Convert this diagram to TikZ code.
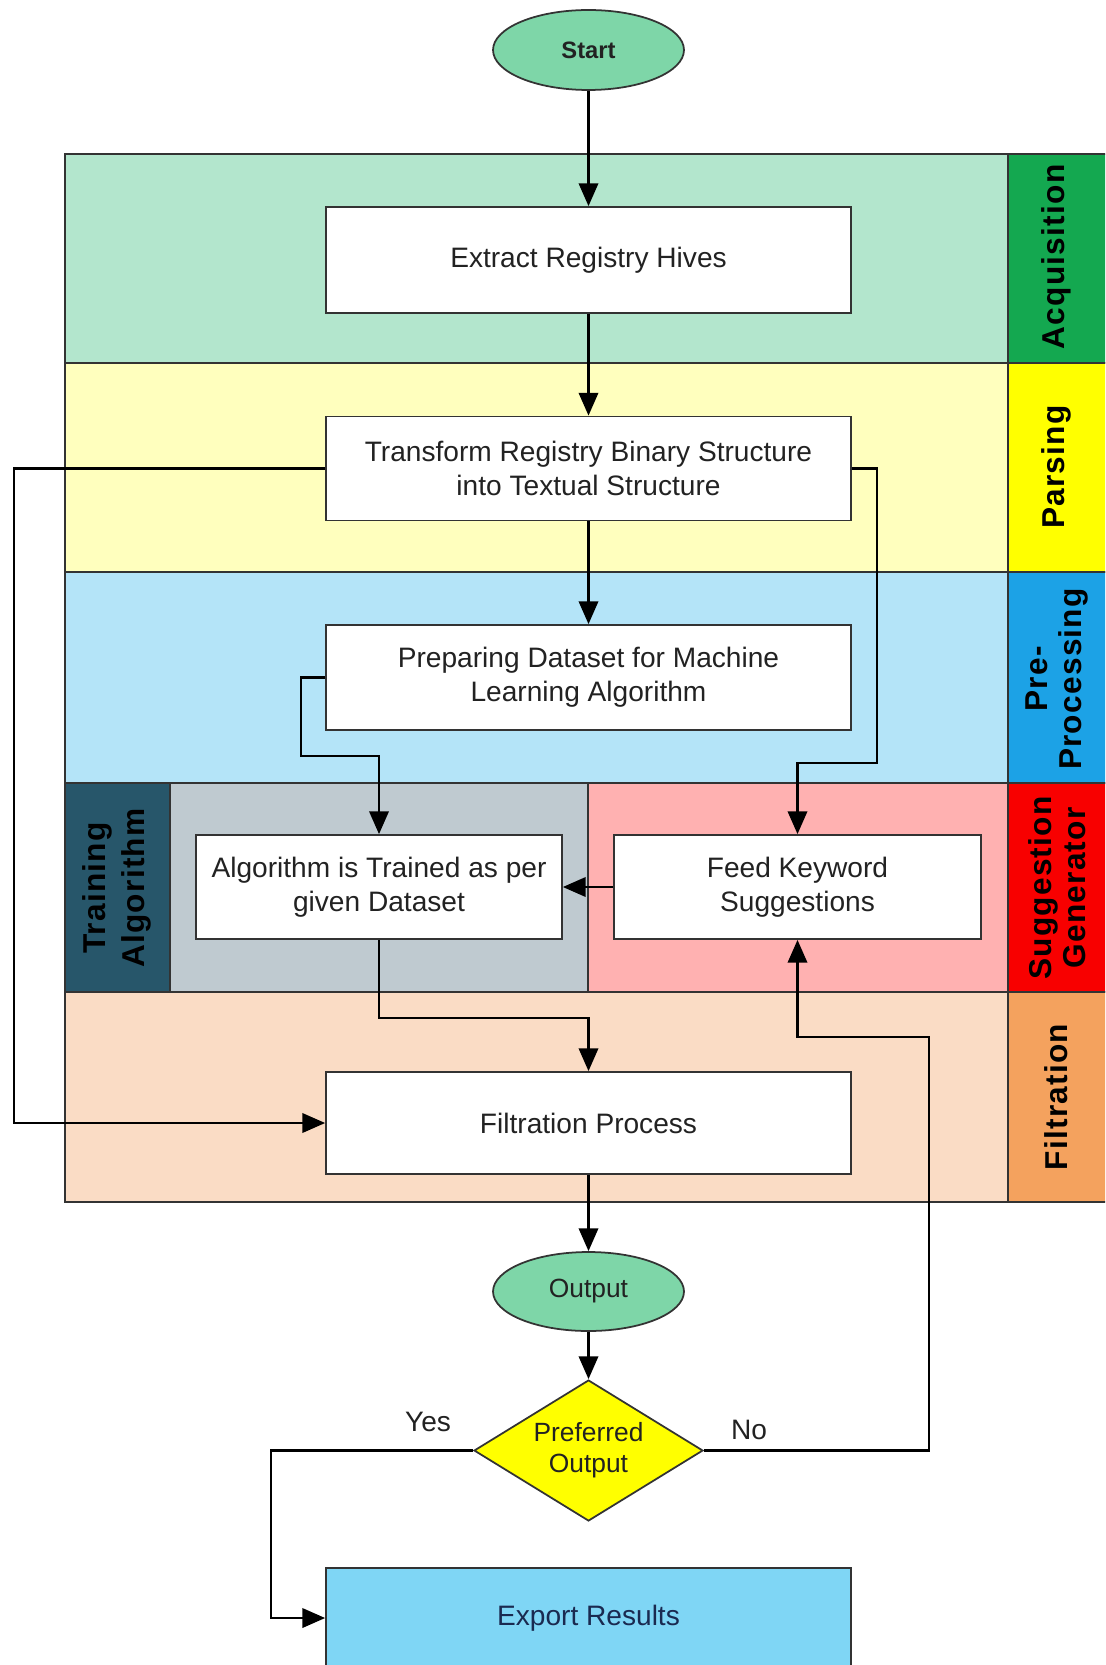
\documentclass[tikz,border=0pt]{standalone}
\usepackage{fontspec}
\setmainfont{Liberation Sans}
\setsansfont{Liberation Sans}
\usetikzlibrary{shapes.geometric,arrows.meta}

% swimlane body / header colours
\definecolor{acqL}{HTML}{B3E6CD}
\definecolor{acqH}{HTML}{14A850}
\definecolor{parL}{HTML}{FFFFBE}
\definecolor{parH}{HTML}{FFFF00}
\definecolor{preL}{HTML}{B4E4F8}
\definecolor{preH}{HTML}{1CA2E6}
\definecolor{traL}{HTML}{BFCAD0}
\definecolor{traH}{HTML}{27566A}
\definecolor{sugL}{HTML}{FFB1B1}
\definecolor{sugH}{HTML}{F80000}
\definecolor{filL}{HTML}{FADCC5}
\definecolor{filH}{HTML}{F4A25E}
% shape colours
\definecolor{termC}{HTML}{7ED6A8}
\definecolor{expC}{HTML}{7FD6F5}
\definecolor{expT}{HTML}{1A2A50}
\definecolor{boxLine}{HTML}{333333}
\definecolor{txtC}{HTML}{222222}

\begin{document}
\begin{tikzpicture}[x=0.02cm,y=-0.02cm,
  lane/.style={draw=boxLine, line width=1.1pt},
  lanelabel/.style={rotate=90, align=center, text=black,
    font=\fontsize{18}{19}\selectfont\bfseries\addfontfeature{LetterSpace=4}},
  procbox/.style={rectangle, draw=boxLine, line width=1pt, fill=white,
    minimum width=10.5cm, minimum height=2.08cm, inner sep=0pt, align=center,
    text=txtC, font=\fontsize{16}{19.5}\selectfont},
  terminal/.style={ellipse, draw=boxLine, line width=1pt, fill=termC,
    minimum width=3.82cm, minimum height=1.6cm, inner sep=0pt, text=txtC},
  decision/.style={diamond, aspect=1.6, draw=boxLine, line width=1pt, fill=parH,
    minimum width=4.58cm, minimum height=2.82cm, inner sep=0pt, align=center,
    text=txtC, font=\fontsize{15}{17.5}\selectfont},
  arr/.style={draw=black, line width=1.5pt,
    -{Triangle[length=13pt,width=11pt]}},
  lbl/.style={text=txtC, font=\fontsize{16}{19}\selectfont}
]
\useasboundingbox (0,0) rectangle (1105,1665);
\clip (0,0) rectangle (1105,1665);

% ---------- swimlanes ----------
\draw[lane, fill=acqL] (65,154) rectangle (1008,363);
\draw[lane, fill=acqH] (1008,154) rectangle (1120,363);
\draw[lane, fill=parL] (65,363) rectangle (1008,572);
\draw[lane, fill=parH] (1008,363) rectangle (1120,572);
\draw[lane, fill=preL] (65,572) rectangle (1008,783);
\draw[lane, fill=preH] (1008,572) rectangle (1120,783);
\draw[lane, fill=traH] (65,783) rectangle (170,992);
\draw[lane, fill=traL] (170,783) rectangle (588,992);
\draw[lane, fill=sugL] (588,783) rectangle (1008,992);
\draw[lane, fill=sugH] (1008,783) rectangle (1120,992);
\draw[lane, fill=filL] (65,992) rectangle (1008,1202);
\draw[lane, fill=filH] (1008,992) rectangle (1120,1202);

\node[lanelabel] (lAcq) at (1056,257) {Acquisition};
\node[lanelabel] (lPar) at (1056,467) {Parsing};
\node[lanelabel] (lPre) at (1057,679) {Pre-\\Processing};
\node[lanelabel] (lSug) at (1057,888) {Suggestion\\Generator};
\node[lanelabel] (lFil) at (1056,1097) {Filtration};
\node[lanelabel, font=\fontsize{18}{22}\selectfont\bfseries\addfontfeature{LetterSpace=4}]
  (lTra) at (117,888) {Training\\Algorithm};

% ---------- flow shapes ----------
\node[terminal, font=\fontsize{13.5}{16}\selectfont\bfseries] (start) at (588.5,50) {Start};
\node[procbox, minimum height=2.12cm] (ext) at (588.5,260) {Extract Registry Hives};
\node[procbox] (trans) at (588.5,468.5) {Transform Registry Binary Structure\\into Textual Structure};
\node[procbox, minimum height=2.1cm] (prep) at (588.5,677.5) {Preparing Dataset for Machine\\Learning Algorithm};
\node[procbox, minimum width=7.32cm] (algo) at (379,887) {Algorithm is Trained as per\\given Dataset};
\node[procbox, minimum width=7.34cm] (feed) at (797.5,887) {Feed Keyword\\Suggestions};
\node[procbox, minimum height=2.04cm] (filt) at (588.5,1123) {Filtration Process};
\node[terminal, minimum height=1.58cm, font=\fontsize{15}{17}\selectfont] (out) at (588.5,1291.5) {Output};
\node[decision] (dec) at (588.5,1450.5) {Preferred\\Output};
\node[procbox, fill=expC, minimum height=2cm, text=expT] (export) at (588.5,1618) {Export Results};

% ---------- routing points ----------
\coordinate (leftbus) at (14,0);
\coordinate (jogA) at (877,763);
\coordinate (jogB) at (301,756);
\coordinate (jogC) at (588.5,1018);
\coordinate (jogD) at (929,1037);
\coordinate (jogE) at (271,1618);

% ---------- connectors ----------
\draw[arr] (start) -- (ext);
\draw[arr] (ext) -- (trans);
\draw[arr] (trans) -- (prep);
\draw[arr] (trans.west) -- (trans.west -| leftbus) |- (filt.west);
\draw[arr] (trans.east) -| (jogA) -| (feed.north);
\draw[arr] (prep.west) -| (jogB) -| (algo.north);
\draw[arr] (feed.west) -- (algo.east);
\draw[arr] (algo.south) |- (jogC) -- (filt.north);
\draw[arr] (filt) -- (out);
\draw[arr] (out) -- (dec);
\draw[arr] (dec.west) -| (jogE) -- (export.west);
\draw[arr] (dec.east) -| (jogD) -| (feed.south);

\node[lbl] (yes) at (428,1422) {Yes};
\node[lbl] (no) at (749,1430) {No};
\end{tikzpicture}
\end{document}
